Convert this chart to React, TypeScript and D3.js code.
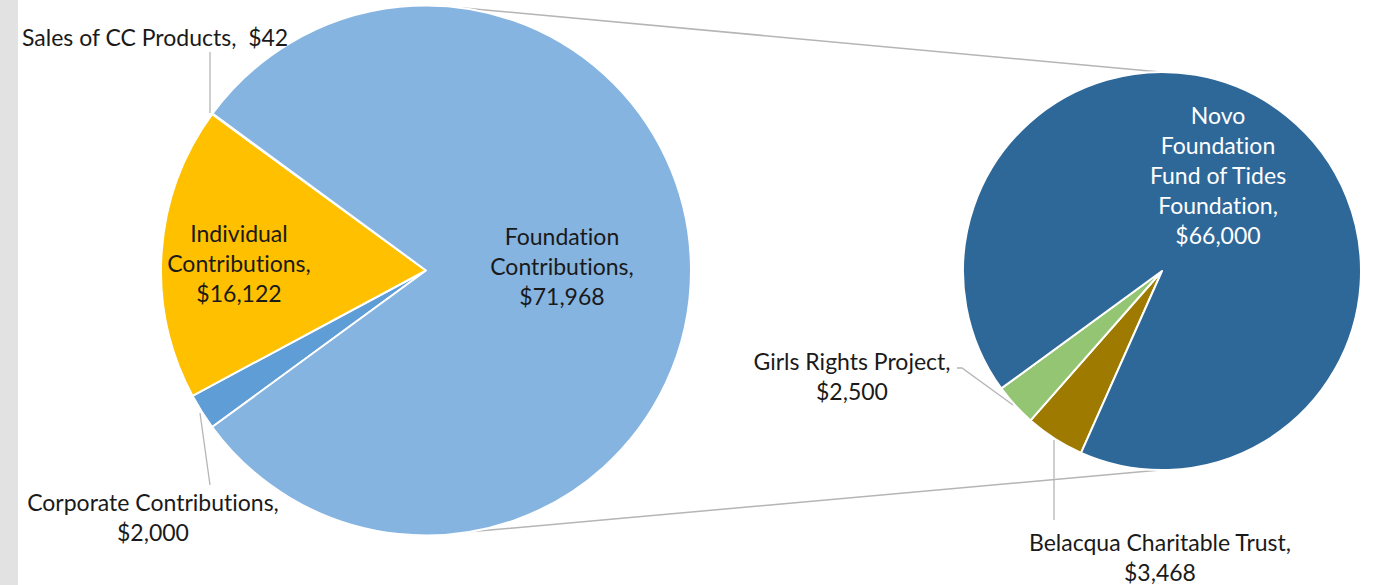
import React from "react";
import * as d3 from "d3";

const mainCategories = ["Corporate Contributions", "Individual Contributions", "Sales of CC Products", "Foundation Contributions"];
const mainValues = [2000, 16122, 42, 71968];
const mainColors = ["#5F9DD6", "#FFC000", "#4472C4", "#85B4E0"];

const subCategories = ["Belacqua Charitable Trust", "Girls Rights Project", "Novo Foundation Fund of Tides Foundation"];
const subValues = [3468, 2500, 66000];
const subColors = ["#9E7A00", "#93C572", "#2E6899"];

const W = 1373;
const H = 585;
const FONT = "Lato, 'Open Sans', sans-serif";

export default function App() {
  const deg = Math.PI / 180;
  const mainC = { x: 426, y: 270.5, r: 265 };
  const subC = { x: 1162, y: 271, r: 199 };

  const mainPie = d3.pie<number>().sort(null).startAngle(233.8 * deg).endAngle(233.8 * deg + 2 * Math.PI);
  const subPie = d3.pie<number>().sort(null).startAngle(204 * deg).endAngle(204 * deg + 2 * Math.PI);
  const mainArcs = mainPie(mainValues);
  const subArcs = subPie(subValues);
  const mainArc = d3.arc<d3.PieArcDatum<number>>().innerRadius(0).outerRadius(mainC.r);
  const subArc = d3.arc<d3.PieArcDatum<number>>().innerRadius(0).outerRadius(subC.r);

  const pt = (c: { x: number; y: number; r: number }, a: number) => [
    c.x + c.r * Math.sin(a * deg),
    c.y - c.r * Math.cos(a * deg),
  ];
  const topL = pt(mainC, 7.5);
  const botL = pt(mainC, 170.5);
  const topR = pt(subC, 359.5);
  const botR = pt(subC, 180.5);

  const txt = (lines: string[], x: number, y0: number, fill = "#1a1a1a", anchor = "middle", lh = 30) =>
    lines.map((l, i) => (
      <text key={i} x={x} y={y0 + i * lh} textAnchor={anchor} fill={fill} fontFamily={FONT} fontSize={23}
        style={{ whiteSpace: "pre", fontVariantLigatures: "none" }}>
        {l}
      </text>
    ));

  return (
    <svg width={W} height={H} style={{ position: "fixed", left: 0, top: 0, background: "#fff" }}>
      <rect x={0} y={0} width={18} height={H} fill="#e2e2e2" />
      <line x1={topL[0]} y1={topL[1]} x2={topR[0]} y2={topR[1]} stroke="#b5b5b5" strokeWidth={1.5} />
      <line x1={botL[0]} y1={botL[1]} x2={botR[0]} y2={botR[1]} stroke="#b5b5b5" strokeWidth={1.5} />
      <g transform={`translate(${mainC.x},${mainC.y})`}>
        {mainArcs.map((a, i) => (
          <path key={mainCategories[i]} d={mainArc(a) || ""} fill={mainColors[i]} stroke="#fff" strokeWidth={2} strokeLinejoin="round" />
        ))}
      </g>
      <g transform={`translate(${subC.x},${subC.y})`}>
        {subArcs.map((a, i) => (
          <path key={subCategories[i]} d={subArc(a) || ""} fill={subColors[i]} stroke="#fff" strokeWidth={2} strokeLinejoin="round" />
        ))}
      </g>
      {/* leader lines */}
      <line x1={210} y1={52} x2={210} y2={113} stroke="#b5b5b5" strokeWidth={1.3} />
      <line x1={200} y1={413} x2={210} y2={485} stroke="#b5b5b5" strokeWidth={1.3} />
      <polyline points="957,368 962,368 1013,405" fill="none" stroke="#b5b5b5" strokeWidth={1.3} />
      <line x1={1054} y1={440} x2={1054} y2={520} stroke="#b5b5b5" strokeWidth={1.3} />

      {txt(["Sales of CC Products,  $" + mainValues[2]], 22, 46, "#1a1a1a", "start")}
      {txt(["Individual", "Contributions,", "$" + d3.format(",")(mainValues[1])], 239, 242)}
      {txt(["Foundation", "Contributions,", "$" + d3.format(",")(mainValues[3])], 562, 245)}
      {txt(["Corporate Contributions,", "$" + d3.format(",")(mainValues[0])], 153, 511)}
      {txt(["Novo", "Foundation", "Fund of Tides", "Foundation,", "$" + d3.format(",")(subValues[2])], 1218, 124, "#ffffff")}
      {txt(["Girls Rights Project,", "$" + d3.format(",")(subValues[1])], 852, 370)}
      {txt(["Belacqua Charitable Trust,", "$" + d3.format(",")(subValues[0])], 1160, 551)}
    </svg>
  );
}
